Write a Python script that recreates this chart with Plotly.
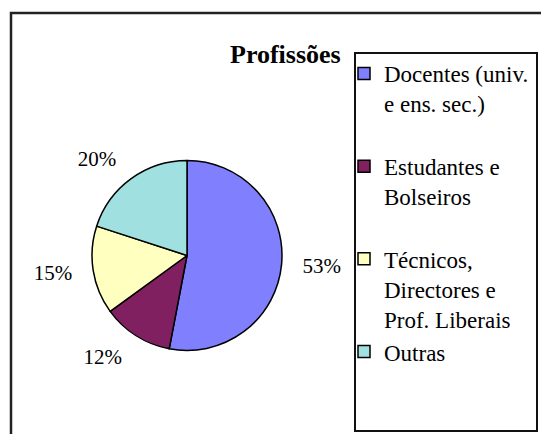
import plotly.graph_objects as go

categories = ["Docentes (univ.<br>e ens. sec.)", "Estudantes e<br>Bolseiros",
              "Técnicos,<br>Directores e<br>Prof. Liberais", "Outras"]
values = [53, 12, 15, 20]
colors = ["#8080FF", "#802060", "#FFFFC0", "#A0E0E0"]
title = "Profissões"

W, H = 541, 434
FONT = "Liberation Serif, Times New Roman, serif"

# pad legend entries to equal height (3 lines) except the last
legend_labels = []
for i, c in enumerate(categories):
    n = c.count("<br>") + 1
    if i < len(categories) - 1 and n < 3:
        c = c + "<br>\u00a0" * (3 - n)
    legend_labels.append(c)

cx, cy, r = 187, 255.5, 95
r_lab = r + 15  # labels sit a little away from the pie edge


def dom(rad):
    return dict(x=[(cx - rad) / W, (cx + rad) / W],
                y=[(H - cy - rad) / H, (H - cy + rad) / H])


# invisible, slightly larger pie that only carries the percentage labels
label_pie = go.Pie(
    labels=legend_labels, values=values, sort=False,
    direction="clockwise", rotation=0,
    marker=dict(colors=["rgba(0,0,0,0)"] * len(values),
                line=dict(width=0)),
    texttemplate="%{percent:.0%}", textposition="outside",
    outsidetextfont=dict(family=FONT, size=21, color="black"),
    domain=dom(r_lab), showlegend=False, hoverinfo="skip",
)

main_pie = go.Pie(
    labels=legend_labels, values=values, sort=False,
    direction="clockwise", rotation=0,
    marker=dict(colors=colors, line=dict(color="black", width=1.5)),
    textinfo="none",
    domain=dom(r),
    hoverinfo="label+percent",
)

fig = go.Figure([label_pie, main_pie])

fig.update_layout(
    width=W, height=H, autosize=False,
    margin=dict(l=0, r=0, t=0, b=0),
    paper_bgcolor="white", plot_bgcolor="white",
    font=dict(family=FONT, color="black"),
    showlegend=True,
    legend=dict(
        x=344 / W, xanchor="left",
        y=(H - 52) / H, yanchor="top",
        font=dict(family=FONT, size=23, color="black"),
        valign="top",
        borderwidth=0,
        bgcolor="rgba(0,0,0,0)",
        traceorder="normal",
    ),
    annotations=[dict(
        text="<b>" + title + "</b>", x=285 / W, y=(H - 55) / H,
        xref="paper", yref="paper", xanchor="center", yanchor="middle",
        showarrow=False, font=dict(family=FONT, size=26, color="black"),
    )],
    shapes=[
        dict(type="rect", xref="paper", yref="paper",
             x0=11 / W, x1=1.05, y0=-0.05, y1=(H - 13) / H,
             line=dict(color="#222", width=2.5), fillcolor="rgba(0,0,0,0)"),
        dict(type="rect", xref="paper", yref="paper",
             x0=355 / W, x1=537 / W, y0=(H - 431) / H, y1=(H - 53) / H,
             line=dict(color="#111", width=2), fillcolor="rgba(0,0,0,0)"),
    ],
)

fig.write_html("out.html", config={"displayModeBar": False},
               post_script="document.body.style.margin='0';document.body.style.overflow='hidden';")
